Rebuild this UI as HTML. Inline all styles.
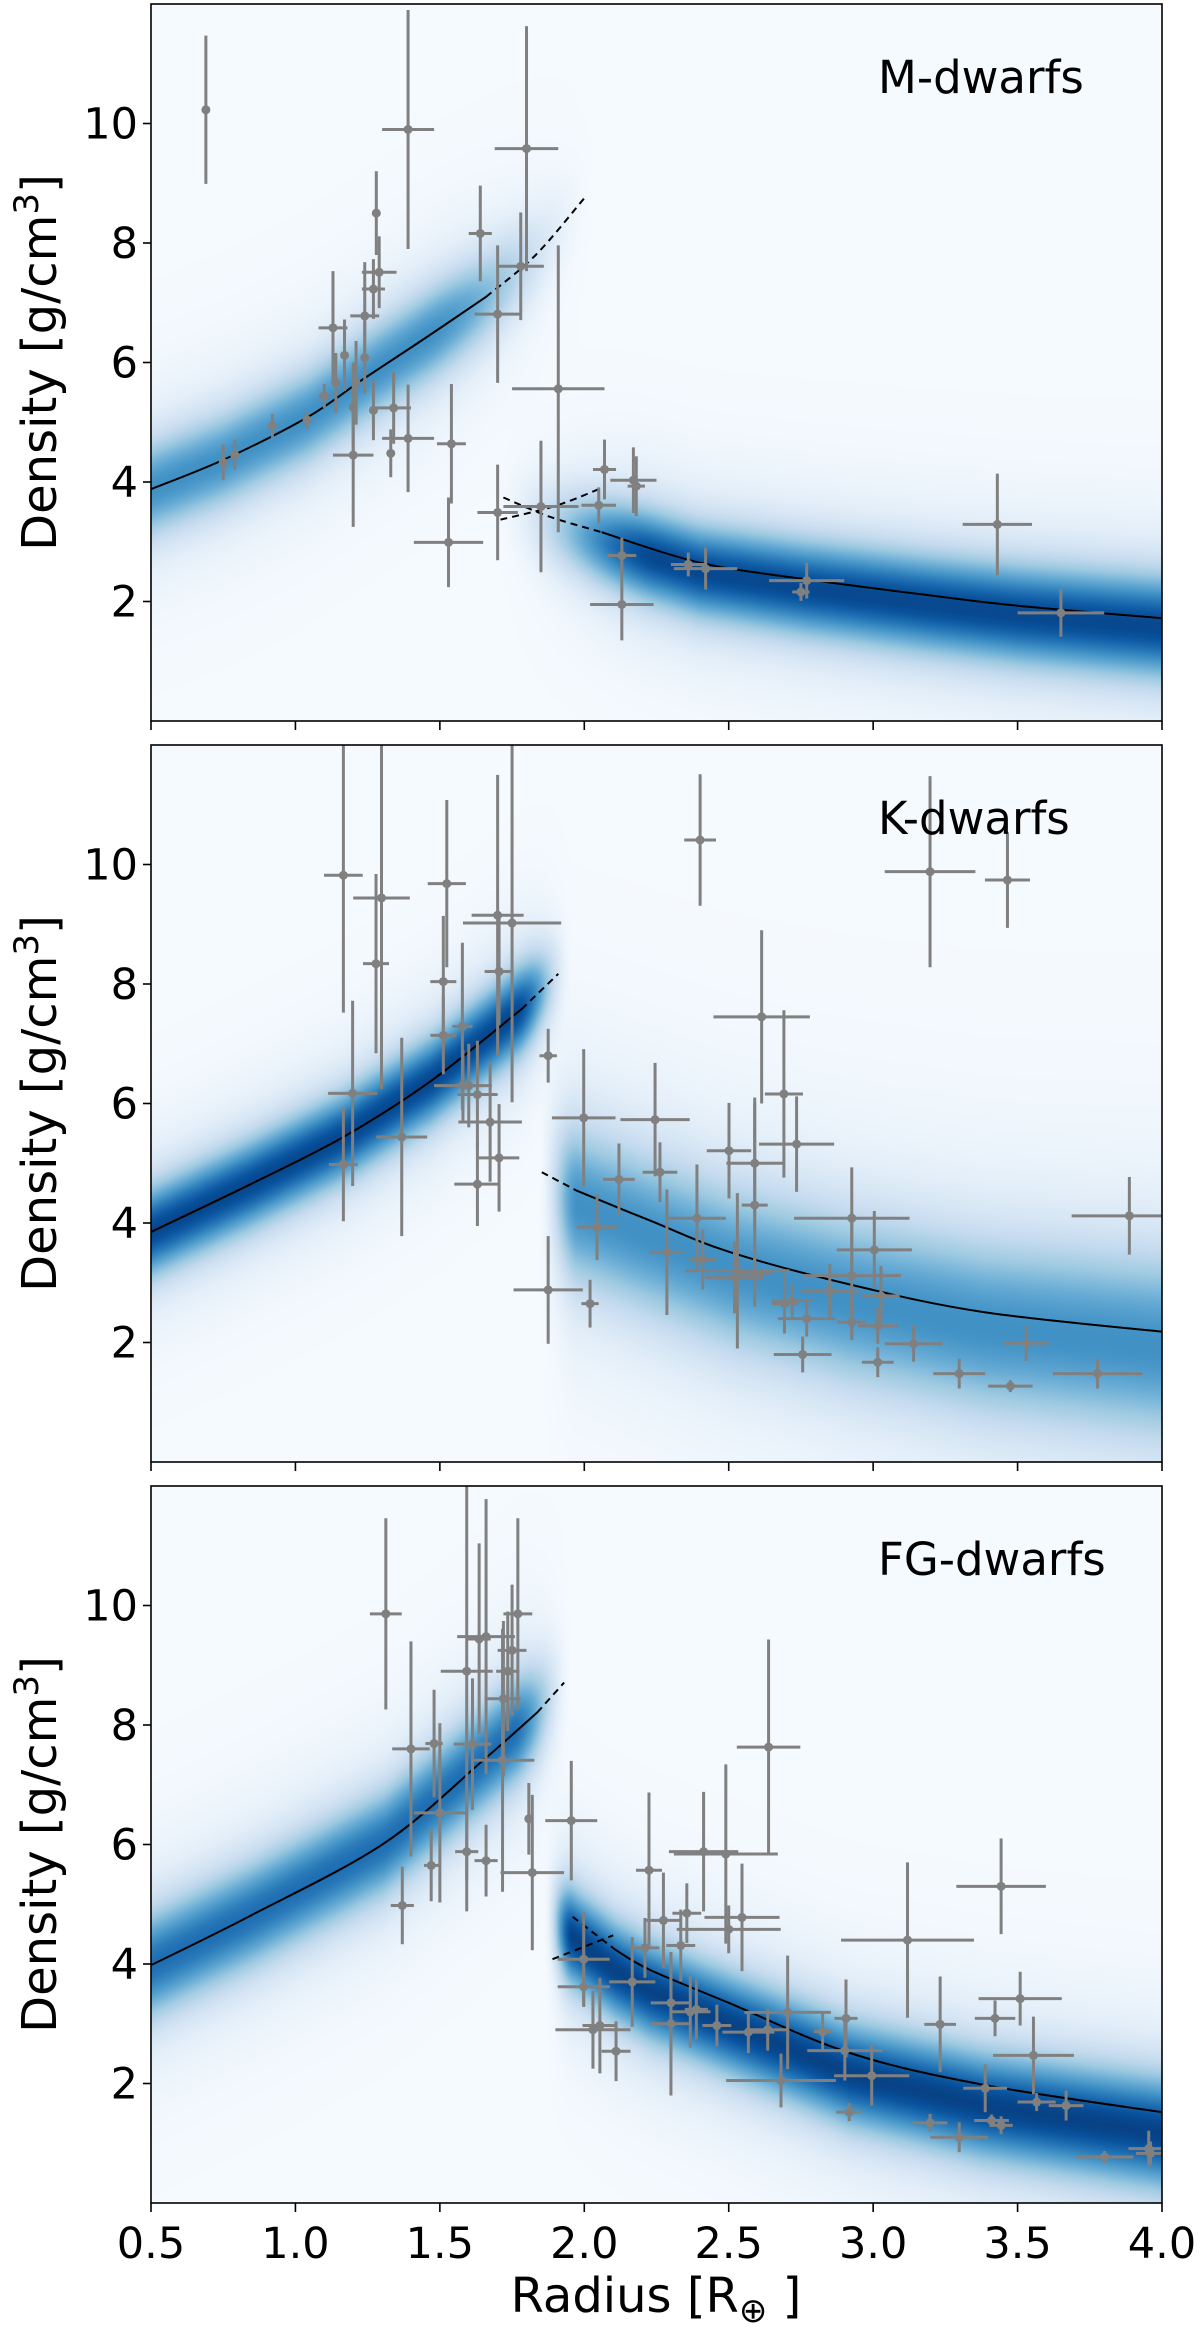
<!DOCTYPE html>
<html><head><meta charset="utf-8">
<style>
html,body{margin:0;padding:0;background:#fff;}
#wrap{position:relative;width:1200px;height:2329px;overflow:hidden;}
canvas{position:absolute;}
svg{position:absolute;left:0;top:0;}
text{font-family:"DejaVu Sans","Liberation Sans",sans-serif;fill:#000;}
</style></head>
<body>
<div id="wrap">
<canvas id="c0"></canvas>
<canvas id="c1"></canvas>
<canvas id="c2"></canvas>
<svg id="svg" width="1200" height="2329" xmlns="http://www.w3.org/2000/svg"></svg>
</div>
<script>
// ---------- DATA ----------
const xTicks=[0.5,1.0,1.5,2.0,2.5,3.0,3.5,4.0];
const xTickLabels=["0.5","1.0","1.5","2.0","2.5","3.0","3.5","4.0"];
const yTicks=[2,4,6,8,10];
const yTickLabels=["2","4","6","8","10"];
const panelTitles=["M-dwarfs","K-dwarfs","FG-dwarfs"];

// M-dwarfs
const m_x=[0.69,0.75,0.79,0.92,1.04,1.10,1.13,1.17,1.14,1.20,1.20,1.21,1.24,1.24,1.28,1.29,1.27,1.27,1.34,1.33,1.39,1.39,1.54,1.53,1.64,1.70,1.70,1.78,1.80,1.85,1.91,2.07,2.05,2.17,2.18,2.13,2.13,2.36,2.42,2.77,2.75,3.43,3.65];
const m_y=[10.23,4.33,4.45,4.94,5.04,5.44,6.58,6.12,5.66,4.45,5.25,5.66,6.78,6.08,8.5,7.51,7.23,5.2,5.24,4.48,9.9,4.73,4.64,2.99,8.16,6.81,3.49,7.61,9.58,3.59,5.56,4.21,3.61,4.03,3.93,2.77,1.95,2.62,2.55,2.35,2.16,3.29,1.81];
const m_xe=[0,0,0,0,0,0.02,0.05,0,0,0.07,0,0,0.05,0,0,0.06,0.04,0,0.06,0,0.09,0.09,0.05,0.12,0.04,0.08,0.07,0.08,0.11,0.13,0.16,0.04,0.06,0.08,0.03,0.05,0.11,0.06,0.11,0.13,0.03,0.12,0.15];
const m_ye=[1.24,0.3,0.25,0.2,0.15,0.2,0.95,0.6,0.5,1.2,0.75,0.7,0.9,0.6,0.7,0.6,0.5,0.5,0.6,0.4,2.0,0.9,1.0,0.75,0.8,1.15,0.8,0.9,2.05,1.1,2.4,0.5,0.3,0.55,0.5,0.3,0.6,0.2,0.35,0.3,0.15,0.85,0.4];
const m_up_x=[0.5,0.75,1.04,1.24,1.45,1.66], m_up_y=[3.88,4.37,5.08,5.74,6.41,7.1];
const m_upd_x=[1.66,1.83,2.0], m_upd_y=[7.1,7.79,8.75];
const m_lo_x=[2.06,2.4,2.77,3.2,3.5,4.0], m_lo_y=[3.16,2.65,2.37,2.1,1.93,1.72];
const m_lod_x=[1.72,1.88,2.06], m_lod_y=[3.74,3.42,3.16];
const m_cr_x=[1.71,1.9,2.05], m_cr_y=[3.37,3.6,3.88];

// K-dwarfs
const k_x=[1.166,1.298,1.279,1.198,1.166,1.368,1.524,1.512,1.512,1.578,1.58,1.60,1.63,1.63,1.674,1.705,1.70,1.705,1.75,1.875,1.875,1.998,2.044,2.02,2.12,2.245,2.262,2.401,3.197,3.465,2.614,2.691,2.735,2.501,2.59,2.59,2.39,2.286,2.41,2.53,2.52,2.59,2.693,2.72,2.85,2.926,2.926,2.926,3.004,3.027,2.77,2.756,3.016,3.016,3.14,3.298,3.475,3.53,3.777,3.887];
const k_y=[9.82,9.44,8.34,6.17,4.98,5.44,9.68,8.04,7.14,7.29,6.30,6.30,6.15,4.65,5.69,5.09,9.15,8.21,9.02,6.80,2.88,5.76,3.93,2.65,4.73,5.73,4.85,10.41,9.88,9.74,7.45,6.16,5.32,5.21,5.0,4.30,4.08,3.51,3.39,3.2,3.09,3.16,2.65,2.70,2.86,4.08,3.12,2.34,3.55,2.78,2.40,1.80,2.28,1.67,1.98,1.48,1.27,1.99,1.48,4.12];
const k_xe=[0.067,0.098,0.045,0.085,0.05,0.088,0.066,0.045,0.045,0.035,0.1,0.05,0.07,0.08,0.11,0.07,0.09,0.05,0.17,0.03,0.12,0.11,0.07,0.03,0.055,0.12,0.06,0.055,0.157,0.078,0.167,0.066,0.13,0.077,0.098,0.045,0.1,0.06,0.045,0.18,0.1,0.055,0.045,0.07,0.1,0.2,0.17,0.05,0.13,0.065,0.1,0.1,0.07,0.055,0.1,0.09,0.077,0.078,0.155,0.2];
const k_ye=[2.3,3.2,1.5,1.55,0.95,1.66,1.4,1.1,0.65,1.4,0.6,0.7,0.9,0.7,1.0,0.9,2.35,0.9,3.0,0.45,0.9,1.15,0.55,0.4,0.6,0.95,0.5,1.1,1.6,0.8,1.45,1.4,0.8,0.8,1.1,1.7,0.9,1.05,0.5,1.3,0.6,0.5,0.5,0.3,0.45,0.85,1.05,0.3,0.65,0.5,0.3,0.3,0.3,0.25,0.3,0.25,0.1,0.3,0.25,0.65];
const k_up_x=[0.5,0.845,1.166,1.47,1.783], k_up_y=[3.85,4.65,5.44,6.38,7.58];
const k_upd_x=[1.783,1.91], k_upd_y=[7.58,8.17];
const k_lo_x=[1.974,2.228,2.5,2.92,3.38,4.0], k_lo_y=[4.54,4.04,3.52,2.97,2.51,2.18];
const k_lod_x=[1.853,1.974], k_lod_y=[4.85,4.54];

// FG-dwarfs
const f_x=[1.313,1.40,1.48,1.50,1.47,1.37,1.593,1.636,1.66,1.613,1.593,1.66,1.717,1.72,1.75,1.735,1.77,1.808,1.82,1.955,1.998,1.998,2.03,2.054,2.11,2.166,2.224,2.21,2.274,2.355,2.413,2.49,2.5,2.546,2.638,2.334,2.3,2.3,2.367,2.388,2.459,2.568,2.635,2.704,2.681,2.825,2.906,2.902,2.995,2.917,3.119,3.232,3.443,3.509,3.422,3.555,3.388,3.566,3.668,3.197,3.298,3.41,3.443,3.801,3.954,3.96];
const f_y=[9.86,7.60,7.69,6.53,5.65,4.98,8.90,9.44,9.48,7.68,5.88,5.73,7.41,8.44,9.25,8.9,9.86,6.43,5.53,6.40,4.08,3.62,2.9,2.97,2.54,3.7,5.57,4.27,4.73,4.85,5.88,5.84,4.58,4.78,7.63,4.31,3.35,3.0,3.2,3.24,2.97,2.86,2.9,3.19,2.05,2.87,3.09,2.55,2.13,1.52,4.40,2.99,5.30,3.42,3.09,2.47,1.92,1.69,1.63,1.34,1.1,1.38,1.30,0.77,0.91,0.83];
const f_xe=[0.055,0.065,0.03,0.09,0.025,0.04,0.09,0.04,0.1,0.065,0.04,0.04,0.11,0.06,0.05,0.04,0.05,0.01,0.11,0.09,0.09,0.09,0.13,0.06,0.05,0.08,0.045,0.05,0.06,0.05,0.12,0.18,0.18,0.13,0.11,0.05,0.07,0.07,0.07,0.04,0.05,0.09,0.075,0.15,0.19,0.03,0.04,0.13,0.13,0.045,0.23,0.055,0.155,0.144,0.07,0.14,0.076,0.066,0.06,0.06,0.1,0.06,0.04,0.1,0.07,0.05];
const f_ye=[1.6,1.8,0.9,1.5,0.6,0.65,3.5,1.6,2.3,1.1,1.0,0.6,2.2,1.3,1.1,1.0,1.6,0.6,1.3,1.0,0.8,0.3,0.65,0.8,0.5,0.75,1.3,0.5,0.8,0.5,1.0,1.5,0.4,0.9,1.8,0.6,0.8,1.2,0.6,0.5,0.35,0.35,0.35,0.95,0.45,0.3,0.65,0.5,0.5,0.15,1.3,0.8,0.8,0.45,0.3,0.65,0.4,0.15,0.25,0.15,0.25,0.1,0.15,0.1,0.3,0.2];
const f_up_x=[0.5,0.845,1.307,1.65,1.837], f_up_y=[3.98,4.81,6.02,7.41,8.21];
const f_upd_x=[1.837,1.93], f_upd_y=[8.21,8.71];
const f_lo_x=[2.11,2.228,2.5,2.92,3.38,4.0], f_lo_y=[4.23,3.9,3.35,2.51,1.98,1.52];
const f_lod_x=[1.96,2.11], f_lod_y=[4.79,4.23];
const f_cr_x=[1.89,2.1], f_cr_y=[4.08,4.48];

// ---------- LAYOUT ----------
const L=151, W=1011, H=717, panelTops=[4,745,1486];
const xMin=0.5,xMax=4.0,yMin=0,yMax=12;
const sx=v=>L+(v-xMin)/(xMax-xMin)*W;
const sy=(top,v)=>top+H-(v-yMin)/(yMax-yMin)*H;

const panels=[
 {x:m_x,y:m_y,xe:m_xe,ye:m_ye,up:[m_up_x,m_up_y],upd:[m_upd_x,m_upd_y],lo:[m_lo_x,m_lo_y],lod:[m_lod_x,m_lod_y],cr:[m_cr_x,m_cr_y],
  band:{ua:0.62,us:0.55,uf0:1.45,uf1:2.05,la:0.9,ls:0.5,lo:-0.15,lf0:1.68,lf1:2.25}},
 {x:k_x,y:k_y,xe:k_xe,ye:k_ye,up:[k_up_x,k_up_y],upd:[k_upd_x,k_upd_y],lo:[k_lo_x,k_lo_y],lod:[k_lod_x,k_lod_y],cr:null,
  band:{ua:0.9,us:0.5,uf0:1.76,uf1:1.96,la:0.62,ls:0.9,lo:-0.25,lf0:1.84,lf1:1.98}},
 {x:f_x,y:f_y,xe:f_xe,ye:f_ye,up:[f_up_x,f_up_y],upd:[f_upd_x,f_upd_y],lo:[f_lo_x,f_lo_y],lod:[f_lod_x,f_lod_y],cr:[f_cr_x,f_cr_y],
  band:{ua:0.75,us:0.6,uf0:1.75,uf1:1.96,la:0.92,ls:0.55,lo:-0.35,lf0:1.86,lf1:1.96}}
];

// ---------- HEATMAP ----------
const blues=[[247,251,255],[222,235,247],[198,219,239],[158,202,225],[107,174,214],[66,146,198],[33,113,181],[8,81,156],[8,48,107]];
function cmap(t){t=Math.max(0,Math.min(1,t))*8;const i=Math.min(7,Math.floor(t)),f=t-i;const a=blues[i],b=blues[i+1];return [a[0]+(b[0]-a[0])*f,a[1]+(b[1]-a[1])*f,a[2]+(b[2]-a[2])*f];}
function interp(xs,ys,x){if(x<=xs[0]){const s=(ys[1]-ys[0])/(xs[1]-xs[0]);return ys[0]+s*(x-xs[0]);}
 const n=xs.length;if(x>=xs[n-1]){const s=(ys[n-1]-ys[n-2])/(xs[n-1]-xs[n-2]);return ys[n-1]+s*(x-xs[n-1]);}
 for(let i=0;i<n-1;i++){if(x<=xs[i+1]){const f=(x-xs[i])/(xs[i+1]-xs[i]);return ys[i]+f*(ys[i+1]-ys[i]);}}}
const sstep=(a,b,x)=>{let t=Math.max(0,Math.min(1,(x-a)/(b-a)));return t*t*(3-2*t);};
const prof=d=>0.82*Math.exp(-0.5*d*d)+0.18*Math.exp(-0.5*(d/2.2)*(d/2.2));
panels.forEach((p,pi)=>{
 const cv=document.getElementById('c'+pi);cv.width=W;cv.height=H;cv.style.left=L+'px';cv.style.top=panelTops[pi]+'px';
 const ctx=cv.getContext('2d');const img=ctx.createImageData(W,H);const d=img.data;
 const ux=p.up[0].concat(p.upd[0].slice(1)),uy=p.up[1].concat(p.upd[1].slice(1));
 const lx=p.lod[0].concat(p.lo[0].slice(1)),ly=p.lod[1].concat(p.lo[1].slice(1));
 const b=p.band;
 for(let c=0;c<W;c++){
  const xv=xMin+(c+0.5)/W*(xMax-xMin);
  const uc=interp(ux,uy,xv),lc=interp(lx,ly,xv)+b.lo;
  const uw=b.ua*(1-sstep(b.uf0,b.uf1,xv));
  const ls=b.ls*(1+0.15*(xv-2)/2);
  const lw=b.la*sstep(b.lf0,b.lf1,xv);
  for(let r=0;r<H;r++){
   const yv=yMax-(r+0.5)/H*(yMax-yMin);
   const du=(yv-uc)/b.us,dl=(yv-lc)/ls;
   let t=uw*prof(du)+lw*prof(dl);
   const col=cmap(t+0.01);const k=(r*W+c)*4;
   d[k]=col[0];d[k+1]=col[1];d[k+2]=col[2];d[k+3]=255;
  }
 }
 ctx.putImageData(img,0,0);
});

// ---------- SVG ----------
const NS="http://www.w3.org/2000/svg";const svg=document.getElementById('svg');
function mk(tag,attrs,parent){const e=document.createElementNS(NS,tag);for(const k in attrs)e.setAttribute(k,attrs[k]);(parent||svg).appendChild(e);return e;}
const defs=mk('defs',{});
function smoothPath(pts){
 let dd='M'+pts[0][0].toFixed(1)+','+pts[0][1].toFixed(1);
 for(let i=0;i<pts.length-1;i++){
  const p0=pts[Math.max(0,i-1)],p1=pts[i],p2=pts[i+1],p3=pts[Math.min(pts.length-1,i+2)];
  const c1=[p1[0]+(p2[0]-p0[0])/6,p1[1]+(p2[1]-p0[1])/6];
  const c2=[p2[0]-(p3[0]-p1[0])/6,p2[1]-(p3[1]-p1[1])/6];
  dd+='C'+c1[0].toFixed(1)+','+c1[1].toFixed(1)+' '+c2[0].toFixed(1)+','+c2[1].toFixed(1)+' '+p2[0].toFixed(1)+','+p2[1].toFixed(1);
 }
 return dd;
}
panels.forEach((p,pi)=>{
 const top=panelTops[pi];
 const cp=mk('clipPath',{id:'clip'+pi},defs);mk('rect',{x:L,y:top,width:W,height:H},cp);
 const g=mk('g',{'clip-path':'url(#clip'+pi+')'});
 
 
 function line(xs,ys,dashed,name){
  const pts=xs.map((v,i)=>[sx(v),sy(top,ys[i])]);
  const e=mk('path',{d:smoothPath(pts),fill:'none',stroke:'#000','stroke-width':2,'stroke-dasharray':dashed?'7,5':'none'},g);
  
  
 }
 line(p.up[0],p.up[1],false,'upper-fit-line');
 line(p.upd[0],p.upd[1],true,'upper-fit-extrapolation');
 line(p.lo[0],p.lo[1],false,'lower-fit-line');
 line(p.lod[0],p.lod[1],true,'lower-fit-extrapolation');
 if(p.cr) line(p.cr[0],p.cr[1],true,'cross-extrapolation');
 for(let i=0;i<p.x.length;i++){
  const cx=sx(p.x[i]),cy=sy(top,p.y[i]);
  const pg=mk('g',{stroke:'#808080','stroke-width':3,fill:'#808080'},g);
  
  
  mk('line',{x1:sx(p.x[i]-p.xe[i]),x2:sx(p.x[i]+p.xe[i]),y1:cy,y2:cy},pg);
  mk('line',{x1:cx,x2:cx,y1:sy(top,p.y[i]-p.ye[i]),y2:sy(top,p.y[i]+p.ye[i])},pg);
  mk('circle',{cx:cx,cy:cy,r:4.5,stroke:'none'},pg);
 }
 const fr=mk('rect',{x:L,y:top,width:W,height:H,fill:'none',stroke:'#000','stroke-width':1.6});
 
 
 yTicks.forEach((v,i)=>{
  const y=sy(top,v);
  mk('line',{x1:L-8,x2:L,y1:y,y2:y,stroke:'#000','stroke-width':1.6});
  const t=mk('text',{x:L-13,y:y+15,'text-anchor':'end','font-size':43});t.textContent=yTickLabels[i];
  
  
 });
 xTicks.forEach((v,i)=>{
  const x=sx(v);
  mk('line',{x1:x,x2:x,y1:top+H,y2:top+H+9,stroke:'#000','stroke-width':1.6});
  if(pi===2){const t=mk('text',{x:x,y:top+H+55,'text-anchor':'middle','font-size':43});t.textContent=xTickLabels[i];
   
   }
 });
 const tt=mk('text',{x:878,y:top+89,'font-size':45});tt.textContent=panelTitles[pi];
 
 
 const yl=mk('text',{x:0,y:0,'font-size':48,'text-anchor':'middle',transform:'translate(56,'+(top+H/2)+') rotate(-90)'});
 
 
 yl.appendChild(document.createTextNode('Density [g/cm'));
 const sup=mk('tspan',{dy:-18,'font-size':34},yl);sup.textContent='3';
 const cl=mk('tspan',{dy:18},yl);cl.textContent=']';
});
const xl=mk('text',{x:656,y:2312,'font-size':48,'text-anchor':'middle'});


xl.appendChild(document.createTextNode('Radius [R'));
const sub=mk('tspan',{dy:10,'font-size':34},xl);sub.textContent='⊕';
const cl2=mk('tspan',{dy:-10},xl);cl2.textContent=' ]';
</script>
</body></html>
